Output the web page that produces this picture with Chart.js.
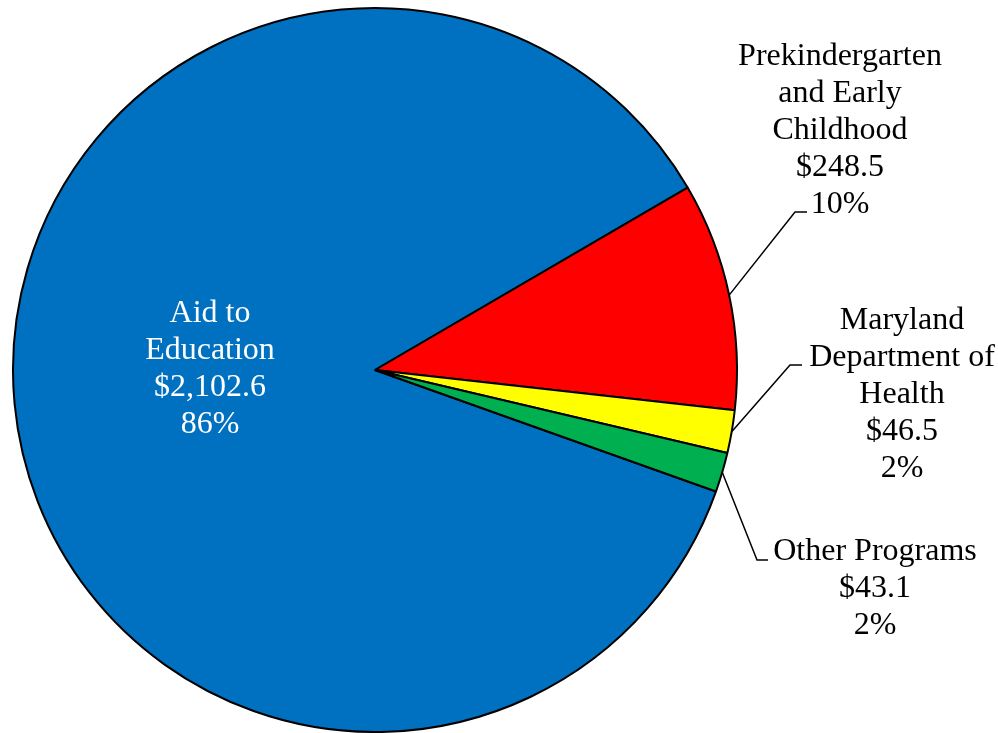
<!DOCTYPE html>
<html>
<head>
<meta charset="utf-8">
<script src="https://cdn.jsdelivr.net/npm/chart.js@4.4.1/dist/chart.umd.min.js"></script>
<style>
  html, body { margin:0; padding:0; background:#fff; }
  #wrap { width:998px; height:733px; position:relative; }
</style>
</head>
<body>
<div id="wrap"><canvas id="pieChart"></canvas></div>
<script>
// data, $ millions
var categories = ['Aid to Education', 'Prekindergarten and Early Childhood', 'Maryland Department of Health', 'Other Programs'];
var amounts = [2102.6, 248.5, 46.5, 43.1];
var amountLabels = ['$2,102.6', '$248.5', '$46.5', '$43.1'];
var percentLabels = ['86%', '10%', '2%', '2%'];
var labelLines = [
    ['Aid to', 'Education'],
    ['Prekindergarten', 'and Early', 'Childhood'],
    ['Maryland', 'Department of', 'Health'],
    ['Other Programs']
];
var sliceColors = ['#0070C0', '#FF0000', '#FFFF00', '#00B050'];

// where each label sits (text center x, first line y) and its leader elbow
var labelPlace = [
    {x:210, y:314, color:'#fff'},
    {x:840, y:57,  elbow:[795, 212], end:[807, 212]},
    {x:902, y:321, elbow:[790, 365], end:[802, 365]},
    {x:875, y:552, elbow:[757, 560], end:[768, 560]}
];

var pieLabels = {
    id:'pieLabels',
    afterDraw:function(chart){
        var ctx = chart.ctx;
        var meta = chart.getDatasetMeta(0);
        ctx.save();
        ctx.font = '32px "Liberation Serif", "Times New Roman", serif';
        ctx.textAlign = 'center';
        ctx.textBaseline = 'middle';
        for(let i=0; i<categories.length; i++){
            var arc = meta.data[i];
            var p = labelPlace[i];
            if(p.elbow){
                var mid = (arc.startAngle + arc.endAngle) / 2;
                var ax = arc.x + Math.cos(mid) * arc.outerRadius;
                var ay = arc.y + Math.sin(mid) * arc.outerRadius;
                ctx.beginPath();
                ctx.strokeStyle = '#000';
                ctx.lineWidth = 1.5;
                ctx.moveTo(ax, ay);
                ctx.lineTo(p.elbow[0], p.elbow[1]);
                ctx.lineTo(p.end[0], p.end[1]);
                ctx.stroke();
            }
            var lines = labelLines[i].concat([amountLabels[i], percentLabels[i]]);
            ctx.fillStyle = p.color || '#000';
            for(let j=0; j<lines.length; j++){
                ctx.fillText(lines[j], p.x, p.y + j*36.8);
            }
        }
        ctx.restore();
    }
};

var pieChart = new Chart(document.getElementById('pieChart'), {
    type:'pie',
    data:{
        labels:categories,
        datasets:[{
            data:amounts,
            backgroundColor:sliceColors,
            borderColor:'#000',
            borderWidth:2
        }]
    },
    options:{
        responsive:true,
        maintainAspectRatio:false,
        animation:false,
        rotation:109.6,
        layout:{ padding:{left:12, right:260, top:7, bottom:0} },
        plugins:{
            legend:{ display:false },
            tooltip:{ enabled:false }
        }
    },
    plugins:[pieLabels]
});
</script>
</body>
</html>
